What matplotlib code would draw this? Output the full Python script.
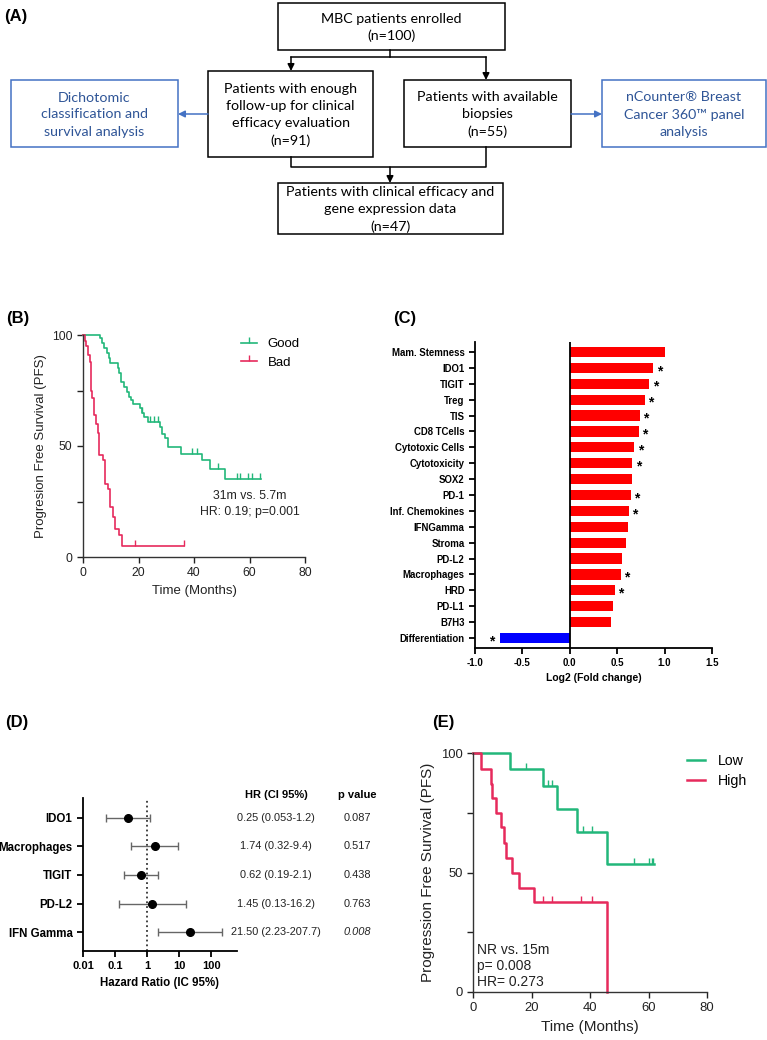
import numpy as np
import matplotlib.pyplot as plt
from matplotlib.patches import Rectangle
from matplotlib.lines import Line2D
import matplotlib.transforms as mtransforms

plt.rcParams['font.family'] = ['Liberation Sans', 'DejaVu Sans']

W, H = 767, 1040
GREEN = '#22b77a'
RED = '#e62a5c'

# (A) flowchart texts
txt_top = 'MBC patients enrolled\n(n=100)'
txt_left = 'Patients with enough\nfollow-up for clinical\nefficacy evaluation\n(n=91)'
txt_right = 'Patients with available\nbiopsies\n(n=55)'
txt_bottom = 'Patients with clinical efficacy and\ngene expression data\n(n=47)'
txt_blue_left = 'Dichotomic\nclassification and\nsurvival analysis'
txt_blue_right = 'nCounter® Breast\nCancer 360™ panel\nanalysis'

# (B) Kaplan-Meier, good vs bad responders
good_t = [0, 6.0, 6.8, 7.4, 8.6, 9.2, 9.8, 12.5, 13.1, 13.7, 14.6, 15.8, 16.4, 17.3, 18.0,
          20.4, 21.2, 22.1, 23.6, 27.6, 28.4, 29.6, 30.8, 35.3, 43.0, 45.6, 51.2]
good_s = [100, 98.5, 96.2, 94.0, 91.7, 89.5, 87.2, 85.0, 82.7, 78.9, 76.7, 74.4, 72.2, 70.7, 68.9,
          66.9, 64.7, 62.9, 60.9, 58.6, 55.6, 53.4, 49.6, 46.6, 43.6, 39.5, 35.3]
good_end = 64.2
good_cens = [21.3, 24.1, 25.5, 27.0, 39.3, 41.0, 48.6, 55.5, 56.6, 59.5, 60.9, 63.8]

bad_t = [0, 0.6, 1.0, 1.7, 2.4, 2.9, 3.4, 3.8, 4.7, 5.3, 5.9, 7.1, 8.0, 8.9, 9.8, 10.7, 11.4, 12.8, 14.0]
bad_s = [100, 97.5, 95.0, 91.0, 88.0, 75.0, 71.4, 64.0, 60.0, 56.0, 46.0, 43.6, 33.0, 30.8, 22.6,
         18.0, 12.8, 9.8, 4.8]
bad_end = 36.5
bad_cens = [18.8, 36.5]

# (C) log2 fold change
genes = ['Mam. Stemness', 'IDO1', 'TIGIT', 'Treg', 'TIS', 'CD8 TCells', 'Cytotoxic Cells',
         'Cytotoxicity', 'SOX2', 'PD-1', 'Inf. Chemokines', 'IFNGamma', 'Stroma', 'PD-L2',
         'Macrophages', 'HRD', 'PD-L1', 'B7H3', 'Differentiation']
log2fc = [1.00, 0.88, 0.84, 0.79, 0.74, 0.73, 0.68, 0.66, 0.66, 0.645, 0.62, 0.615, 0.59,
          0.55, 0.54, 0.475, 0.455, 0.43, -0.74]
signif = [0, 1, 1, 1, 1, 1, 1, 1, 0, 1, 1, 0, 0, 0, 1, 1, 0, 0, 1]

# (D) forest plot
forest_vars = ['IDO1', 'Macrophages', 'TIGIT', 'PD-L2', 'IFN Gamma']
hr = [0.25, 1.74, 0.62, 1.45, 21.50]
ci_lo = [0.053, 0.32, 0.19, 0.13, 2.23]
ci_hi = [1.2, 9.4, 2.1, 16.2, 207.7]
pval = [0.087, 0.517, 0.438, 0.763, 0.008]

# (E) Kaplan-Meier, IFN Gamma low vs high
low_t = [0, 12.6, 23.8, 28.8, 35.7, 45.9]
low_s = [100, 93.4, 86.0, 76.6, 67.0, 53.6]
low_end = 62.0
low_cens = [18.0, 25.7, 26.9, 37.7, 40.8, 54.9, 60.0, 61.1, 61.7]

high_t = [0, 2.9, 6.1, 6.6, 8.0, 9.7, 10.5, 11.4, 13.5, 15.7, 20.8, 45.9]
high_s = [100, 93.4, 87.2, 81.2, 74.9, 69.0, 62.3, 56.0, 50.0, 43.5, 37.5, 0]
high_end = 45.9
high_cens = [24.0, 26.9, 36.8, 40.8]


def px_axes(l, t, r, b):
    return fig.add_axes([l / W, 1 - b / H, (r - l) / W, (b - t) / H])


def surv_at(t_steps, s_steps, t):
    i = np.searchsorted(t_steps, t, side='right') - 1
    return np.array(s_steps)[i]


def km(ax, t, s, end, cens, color, lw, label):
    ax.step(list(t) + [end], list(s) + [s[-1]], where='post', color=color, lw=lw,
            clip_on=False, label=label)
    ax.plot(cens, surv_at(t, s, cens), ls='none', marker=2, ms=4, mew=1, color=color,
            clip_on=False)


def km_axes(ax, fs_tick, fs_lab, ylabel):
    ax.set_xlim(0, 80)
    ax.set_ylim(0, 100)
    ax.set_xticks([0, 20, 40, 60, 80])
    ax.set_yticks([0, 25, 50, 75, 100])
    ax.set_yticklabels(['0', '', '50', '', '100'])
    ax.spines['top'].set_visible(False)
    ax.spines['right'].set_visible(False)
    for sp in ['left', 'bottom']:
        ax.spines[sp].set_linewidth(1.0)
        ax.spines[sp].set_color('#333333')
    ax.tick_params(direction='out', length=4, width=1, labelsize=fs_tick, colors='#222222')
    ax.set_xlabel('Time (Months)', fontsize=fs_lab, color='#222222')
    ax.set_ylabel(ylabel, fontsize=fs_lab, color='#222222')


fig = plt.figure(figsize=(W / 100, H / 100), dpi=100)

# ---------------- (A) flowchart ----------------
ax0 = fig.add_axes([0, 0, 1, 1])
ax0.set_xlim(0, W)
ax0.set_ylim(H, 0)
ax0.axis('off')

boxes = [
    (278, 3, 505, 50, txt_top, 'black', 'black'),
    (208, 71, 373, 157, txt_left, 'black', 'black'),
    (404, 80, 571, 147, txt_right, 'black', 'black'),
    (278, 183, 503, 234, txt_bottom, 'black', 'black'),
    (11, 80, 178, 147, txt_blue_left, '#4472c4', '#2f5597'),
    (602, 80, 766, 147, txt_blue_right, '#4472c4', '#2f5597'),
]
for x0, y0, x1, y1, txt, ec, tc in boxes:
    ax0.add_patch(Rectangle((x0, y0), x1 - x0, y1 - y0, fill=False, ec=ec, lw=1.1))
    ax0.text((x0 + x1) / 2, (y0 + y1) / 2 + 1, txt, ha='center', va='center', color=tc,
             fontsize=10.3, family=['Lato', 'DejaVu Sans'], linespacing=1.5)

ln = dict(color='black', lw=1.1)
arr = dict(arrowstyle='-|>', color='black', lw=1.1, mutation_scale=10, shrinkA=0, shrinkB=0)
ax0.plot([390, 390], [50, 57], **ln)
ax0.plot([291, 486], [57, 57], **ln)
ax0.annotate('', xy=(291, 71), xytext=(291, 57), arrowprops=arr)
ax0.annotate('', xy=(486, 80), xytext=(486, 57), arrowprops=arr)
ax0.plot([291, 291, 486, 486], [157, 167, 167, 147], **ln)
ax0.annotate('', xy=(390, 183), xytext=(390, 167), arrowprops=arr)
barr = dict(arr, color='#4472c4')
ax0.annotate('', xy=(178, 114), xytext=(208, 114), arrowprops=barr)
ax0.annotate('', xy=(602, 114), xytext=(571, 114), arrowprops=barr)

for lab, x, y in [('(A)', 4, 16), ('(B)', 6, 318), ('(C)', 393, 318), ('(D)', 5, 723), ('(E)', 432, 723)]:
    fig.text(x / W, 1 - y / H, lab, fontsize=12, fontweight='bold', va='center', ha='left')

# ---------------- (B) ----------------
axB = px_axes(83, 335, 305, 557)
km(axB, good_t, good_s, good_end, good_cens, GREEN, 1.2, 'Good')
km(axB, bad_t, bad_s, bad_end, bad_cens, RED, 1.2, 'Bad')
km_axes(axB, 8.8, 9.5, 'Progresion Free Survival (PFS)')
hB = [Line2D([0], [0], color=GREEN, lw=1.2, marker=2, ms=4),
      Line2D([0], [0], color=RED, lw=1.2, marker=2, ms=4)]
axB.legend(hB, ['Good', 'Bad'], loc='upper left', bbox_to_anchor=(0.66, 1.04), frameon=False,
           fontsize=9.5, handlelength=1.2, labelspacing=0.5, handletextpad=0.8)
axB.text(60, 24, '31m vs. 5.7m\nHR: 0.19; p=0.001', ha='center', va='center', fontsize=8.8,
         color='#222222', linespacing=1.4)

# ---------------- (C) ----------------
axC = px_axes(475, 342, 712, 648)
idx = np.arange(len(genes))
colors = ['#ff0000' if v > 0 else '#0000ff' for v in log2fc]
axC.barh(idx, log2fc, height=0.65, color=colors)
axC.axvline(0, color='black', lw=1.3)
axC.set_xlim(-1.0, 1.5)
axC.set_ylim(len(genes) - 0.37, -0.63)
axC.set_yticks(idx)
axC.set_yticklabels(genes, fontsize=6.9, fontweight='bold')
axC.set_xticks([-1.0, -0.5, 0, 0.5, 1.0, 1.5])
axC.set_xticklabels(['-1.0', '-0.5', '0.0', '0.5', '1.0', '1.5'], fontsize=7, fontweight='bold')
axC.set_xlabel('Log2 (Fold change)', fontsize=7.5, fontweight='bold', labelpad=3)
for sp in ['top', 'right']:
    axC.spines[sp].set_visible(False)
for sp in ['left', 'bottom']:
    axC.spines[sp].set_linewidth(1.3)
axC.tick_params(direction='out', length=4, width=1.3)
for i, (v, s) in enumerate(zip(log2fc, signif)):
    if s:
        xs = v + 0.065 if v > 0 else v - 0.08
        axC.text(xs, i + 0.2, '*', ha='center', va='center', fontsize=10, fontweight='bold')

# ---------------- (D) ----------------
axD = px_axes(83, 798, 237, 951)
yi = np.arange(len(forest_vars))
hr_a = np.array(hr)
xerr = [hr_a - np.array(ci_lo), np.array(ci_hi) - hr_a]
axD.errorbar(hr_a, yi, xerr=xerr, fmt='none', ecolor='#666666', elinewidth=1, capsize=3, capthick=1)
axD.plot(hr_a, yi, 'o', color='black', ms=5.5, zorder=3)
axD.axvline(1, color='#333333', ls=':', lw=1.3)
axD.set_xscale('log')
axD.set_xlim(0.01, 10 ** 2.8)
axD.set_ylim(len(forest_vars) - 0.34, -0.69)
axD.set_xticks([0.01, 0.1, 1, 10, 100])
axD.set_xticklabels(['0.01', '0.1', '1', '10', '100'], fontsize=8, fontweight='bold')
axD.xaxis.set_minor_locator(plt.NullLocator())
axD.set_yticks(yi)
axD.set_yticklabels(forest_vars, fontsize=8.3, fontweight='bold')
axD.set_xlabel('Hazard Ratio (IC 95%)', fontsize=8.3, fontweight='bold', labelpad=4)
for sp in ['top', 'right']:
    axD.spines[sp].set_visible(False)
for sp in ['left', 'bottom']:
    axD.spines[sp].set_linewidth(1.3)
axD.tick_params(direction='out', length=4, width=1.3)
trD = mtransforms.blended_transform_factory(axD.transAxes, axD.transData)
axD.text(1.253, -0.8, 'HR (CI 95%)', transform=trD, ha='center', va='center', fontsize=8,
         fontweight='bold', clip_on=False)
axD.text(1.779, -0.8, 'p value', transform=trD, ha='center', va='center', fontsize=8,
         fontweight='bold', clip_on=False)
for i in range(len(forest_vars)):
    axD.text(1.253, i, f'{hr[i]:.2f} ({ci_lo[i]:g}-{ci_hi[i]:g})', transform=trD, ha='center',
             va='center', fontsize=7.9, color='#222222', clip_on=False)
    axD.text(1.779, i, f'{pval[i]:.3f}', transform=trD, ha='center', va='center', fontsize=7.9,
             color='#222222', style='italic' if pval[i] < 0.05 else 'normal', clip_on=False)

# ---------------- (E) ----------------
axE = px_axes(473, 753, 707, 992)
km(axE, low_t, low_s, low_end, low_cens, GREEN, 1.8, 'Low')
km(axE, high_t, high_s, high_end, high_cens, RED, 1.8, 'High')
km_axes(axE, 9.4, 11, 'Progression Free Survival (PFS)')
hE = [Line2D([0], [0], color=GREEN, lw=1.8), Line2D([0], [0], color=RED, lw=1.8)]
axE.legend(hE, ['Low', 'High'], loc='upper left', bbox_to_anchor=(0.86, 1.05), frameon=False,
           fontsize=10.2, handlelength=1.3, labelspacing=0.45, handletextpad=0.9)
axE.text(1.2, 10.9, 'NR vs. 15m\np= 0.008\nHR= 0.273', ha='left', va='center', fontsize=10,
         color='#222222', linespacing=1.2)

plt.savefig('out.png', dpi=100)
